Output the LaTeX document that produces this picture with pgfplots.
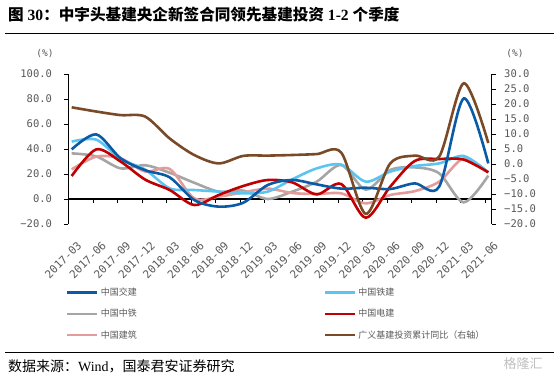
\documentclass[border=0pt]{standalone}
\usepackage{pgfplots}
\pgfplotsset{compat=1.18}
\usepackage{pgfplotstable}
\usepackage{fontspec}
\setmainfont{Liberation Serif}
\newfontfamily\cjk{Noto Sans CJK SC}
\newfontfamily\tickfont{DejaVu Sans Mono}
\definecolor{cJJ}{HTML}{0A5AA5}
\definecolor{cTJ}{HTML}{5BC4F1}
\definecolor{cZT}{HTML}{A5A5A5}
\definecolor{cDJ}{HTML}{C00000}
\definecolor{cJZ}{HTML}{E39B9B}
\definecolor{cGY}{HTML}{7A4927}
\definecolor{tickgray}{HTML}{595959}
\pgfplotstableread{
x     jj    tj    zt    dj    jz    gy
0.13  39.7  45.9  36.5  18.4  23.7  18.9
1.13  51.7  47.5  34.1  39.7  33.9  17.5
2.13  32.5  32.0  24.5  29.9  32.5  16.3
3.13  23.0  23.5  27.0  15.5  22.0  15.8
4.13  17.3   8.5  21.0   7.2  24.0   8.5
5.13  -0.8   7.2  13.0  -4.8   0.5   3.0
6.13  -6.1   5.9   5.9   3.2   1.9   0.2
7.13  -3.0   4.5   6.7  10.4   5.3   2.7
8.13  11.2   5.9   0.0  15.2   8.3   2.8
9.13  15.2  15.7   5.9  13.3   4.8   3.0
10.13 11.7  24.5  13.9   3.7   4.0   3.3
11.13  8.3  27.5  27.2  12.0   4.5   3.8
12.13  9.0  13.9   7.5 -15.0  -3.5 -16.6
13.13  8.0  21.9  23.2   9.9   3.2   0.2
14.13 12.5  26.4  25.3  30.4   6.3   2.8
15.13 10.0  28.5  20.5  32.0  13.9   2.5
16.13 80.5  34.4  -2.7  31.5  32.5  26.9
17.13 28.5  21.3  18.7  21.3  21.3   7.0
}\data
\begin{document}
\begin{tikzpicture}
\useasboundingbox (0,0) rectangle (554pt,376pt);
\node[anchor=west, inner sep=0pt, font=\fontsize{15.6}{16}\selectfont\bfseries] at (8pt,361pt)
  {{\cjk 图} 30{\cjk ：中宇头基建央企新签合同领先基建投资} 1-2 {\cjk 个季度}};
\draw[line width=1.2pt] (5pt,342.5pt) -- (554pt,342.5pt);
\draw[line width=1pt] (5pt,24pt) -- (554pt,24pt);
\node[anchor=west, inner sep=0pt, font=\fontsize{14}{15}\selectfont] at (8pt,10pt)
  {{\cjk 数据来源：}Wind{\cjk ，国泰君安证券研究}};
\node[text=black!25, font=\cjk\fontsize{13}{13}\selectfont] at (523pt,12pt) {格隆汇};
\node[text=tickgray, font=\tickfont\fontsize{9.5}{9.5}\selectfont] at (45pt,322pt) {(\%)};
\node[text=tickgray, font=\tickfont\fontsize{9.5}{9.5}\selectfont] at (515pt,322pt) {(\%)};
% category labels (same x scale, shifted to where the reference sets them)
\begin{axis}[
  at={(82pt,135pt)}, anchor=south west,
  scale only axis, width=423.2pt, height=20pt,
  xmin=0, xmax=17.27, ymin=0, ymax=1,
  axis x line=bottom, axis y line=none,
  x axis line style={draw=none},
  major tick length=0pt,
  xtick={0,...,17},
  xticklabels={2017-03,2017-06,2017-09,2017-12,2018-03,2018-06,2018-09,2018-12,2019-03,2019-06,2019-09,2019-12,2020-03,2020-06,2020-09,2020-12,2021-03,2021-06},
  xticklabel style={font=\tickfont\fontsize{11}{11}\selectfont, text=tickgray, rotate=45, anchor=east},
]
\end{axis}
\begin{axis}[
  at={(68.5pt,152pt)}, anchor=south west,
  scale only axis, width=423.2pt, height=150pt,
  xmin=0, xmax=17.27, ymin=-20, ymax=100,
  axis x line=middle, axis y line=left,
  axis line style={-, black, line width=1.1pt},
  hide obscured x ticks=false,
  xtick={0,...,17},
  xticklabels={},
  ytick={-20,0,20,40,60,80,100},
  yticklabels={−20.0,0.0,20.0,40.0,60.0,80.0,100.0},
  tick align=outside, xtick align=outside,
  major tick length=4pt,
  tick style={black, line width=0.8pt},
  yticklabel style={font=\tickfont\fontsize{10.5}{10.5}\selectfont, text=tickgray, xshift=-9pt},
  clip=false,
]
\addplot[cZT, line width=2.6pt, smooth] table[x=x,y=zt]{\data};
\addplot[cJZ, line width=2.6pt, smooth] table[x=x,y=jz]{\data};
\addplot[cTJ, line width=2.6pt, smooth] table[x=x,y=tj]{\data};
\addplot[cDJ, line width=2.6pt, smooth] table[x=x,y=dj]{\data};
\addplot[cJJ, line width=2.6pt, smooth] table[x=x,y=jj]{\data};
\end{axis}
\begin{axis}[
  at={(68.5pt,152pt)}, anchor=south west,
  scale only axis, width=423.2pt, height=150pt,
  xmin=0, xmax=17.27, ymin=-20, ymax=30,
  axis x line=none, axis y line*=right,
  axis line style={-, black, line width=1.1pt},
  ytick={-20,-15,-10,-5,0,5,10,15,20,25,30},
  yticklabels={−20.0,−15.0,−10.0,−5.0,0.0,5.0,10.0,15.0,20.0,25.0,30.0},
  tick align=outside,
  major tick length=4pt,
  tick style={black, line width=0.8pt},
  yticklabel style={font=\tickfont\fontsize{10.5}{10.5}\selectfont, text=tickgray, xshift=5pt},
  clip=false,
  legend columns=2,
  legend cell align=left,
  legend image code/.code={\draw[#1] (0pt,0pt) -- (30pt,0pt);},
  legend style={at={(-0.013,-0.40)}, anchor=north west, draw=none, fill=none,
    font=\cjk\fontsize{9}{9}\selectfont, text=tickgray, row sep=8pt,
    /tikz/every even column/.append style={column sep=185pt}},
]
\addlegendimage{cJJ, line width=2.6pt}\addlegendentry{中国交建}
\addlegendimage{cTJ, line width=2.6pt}\addlegendentry{中国铁建}
\addlegendimage{cZT, line width=2.6pt}\addlegendentry{中国中铁}
\addlegendimage{cDJ, line width=2.6pt}\addlegendentry{中国电建}
\addlegendimage{cJZ, line width=2.6pt}\addlegendentry{中国建筑}
\addplot[cGY, line width=2.6pt, smooth] table[x=x,y=gy]{\data};
\addlegendentry{广义基建投资累计同比（右轴）}
\end{axis}
\end{tikzpicture}
\end{document}
